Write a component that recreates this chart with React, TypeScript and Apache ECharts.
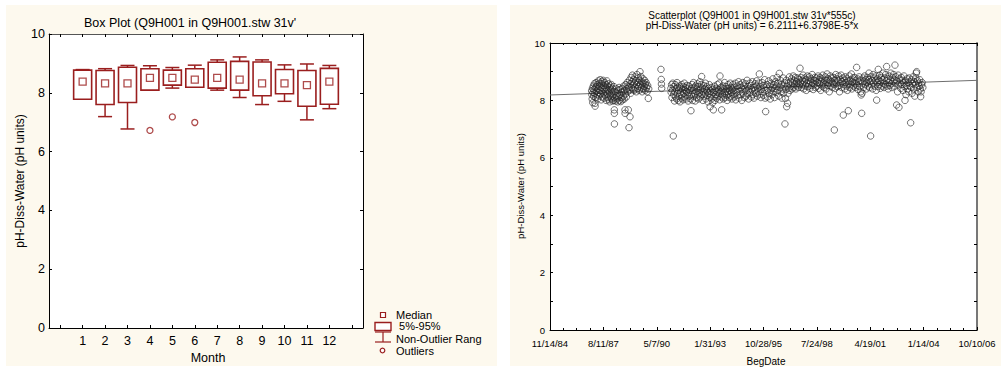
import React, { useEffect, useRef } from "react";
import * as echarts from "echarts";

// ---------- Box plot data (left) ----------
const monthLabels = ["", "1", "2", "3", "4", "5", "6", "7", "8", "9", "10", "11", "12", ""];
const whiskerLow = [7.78, 7.19, 6.77, 8.09, 8.16, 8.19, 8.09, 7.84, 7.6, 7.71, 7.08, 7.46];
const pct5 = [7.78, 7.6, 7.67, 8.09, 8.26, 8.19, 8.16, 8.09, 7.9, 7.97, 7.54, 7.61];
const medians = [8.38, 8.32, 8.32, 8.51, 8.51, 8.45, 8.51, 8.45, 8.32, 8.32, 8.26, 8.38];
const pct95 = [8.77, 8.76, 8.87, 8.82, 8.77, 8.82, 9.04, 9.07, 9.05, 8.79, 8.76, 8.83];
const whiskerHigh = [8.79, 8.82, 8.93, 8.92, 8.86, 8.94, 9.12, 9.22, 9.12, 8.95, 8.98, 8.93];
const outlierMonths = [4, 5, 6];
const outlierValues = [6.72, 7.18, 6.99];

// ---------- Scatter data (right): [Excel date serial, pH] ----------
const phSamples: [number, number][] = [
  [31780, 8.33], [31784, 8.2], [31790, 8.05], [31795, 8.42], [31801, 7.92], [31806, 8.28], [31812, 8.5], [31818, 8.15], [31824, 8.38], [31830, 8.58],
  [31836, 8.25], [31843, 7.9], [31845, 7.8], [31850, 8.45], [31856, 8.1], [31862, 8.62], [31868, 8.32], [31874, 8.48], [31880, 8.2], [31886, 8.55],
  [31892, 8.05], [31898, 8.4], [31904, 8.68], [31910, 8.28], [31916, 8.5], [31922, 8.15], [31928, 8.6], [31934, 8.35], [31940, 8.72], [31946, 8.22],
  [31952, 8.45], [31958, 8.02], [31964, 8.58], [31970, 8.3], [31976, 8.65], [31982, 8.12], [31988, 8.42], [31994, 8.7], [32000, 8.25], [32006, 8.52],
  [32012, 8.08], [32018, 8.38], [32024, 8.62], [32030, 8.18], [32036, 8.45], [32042, 8.3], [32048, 8.55], [32054, 8.0], [32060, 8.4], [32066, 8.68],
  [32072, 8.22], [32078, 8.5], [32084, 8.1], [32090, 8.35], [32096, 8.58], [32102, 8.02], [32108, 8.28], [32114, 8.45], [32120, 7.95], [32126, 8.2],
  [32132, 8.5], [32138, 8.12], [32144, 8.38], [32150, 8.55], [32156, 8.05], [32162, 8.25], [32168, 8.42], [32174, 7.98], [32180, 8.15], [32186, 8.3],
  [32192, 8.0], [32198, 8.48], [32205, 7.67], [32206, 7.55], [32207, 7.18], [32212, 8.1],
  [32222, 8.3], [32230, 7.98], [32238, 8.15], [32246, 8.4], [32254, 8.05], [32262, 8.25], [32270, 7.95], [32278, 8.35], [32286, 8.12], [32294, 8.45],
  [32302, 8.0], [32310, 8.2], [32318, 8.38], [32326, 7.96], [32334, 8.28], [32342, 8.1], [32350, 8.42], [32358, 8.02], [32366, 8.3], [32374, 8.15],
  [32382, 8.5], [32390, 8.05], [32398, 8.35], [32405, 7.67], [32407, 7.55], [32414, 8.22], [32422, 8.55], [32430, 8.12], [32438, 8.4], [32446, 8.62],
  [32454, 8.3], [32462, 8.5], [32467, 7.67], [32474, 8.45], [32480, 7.05], [32486, 8.7], [32492, 8.35], [32499, 7.43], [32505, 8.58], [32512, 8.25],
  [32520, 8.8], [32528, 8.45], [32536, 8.65], [32544, 8.88], [32552, 8.4],
  [32560, 8.55], [32568, 8.72], [32576, 8.35], [32584, 8.6], [32592, 8.82], [32600, 8.45], [32608, 8.68], [32616, 8.3], [32624, 8.55], [32632, 8.9],
  [32640, 8.42], [32648, 8.62], [32656, 8.78], [32664, 8.5], [32672, 8.35], [32680, 8.7], [32686, 9.0], [32694, 8.55], [32702, 8.83], [32710, 8.45],
  [32718, 8.65], [32726, 8.3], [32734, 8.58], [32742, 8.75], [32750, 8.4], [32758, 8.6], [32766, 8.48], [32774, 8.7], [32782, 8.35], [32790, 8.55],
  [32800, 8.62], [32810, 8.45], [32820, 8.3], [32830, 8.52], [32842, 8.07], [32850, 8.4],
  [33079, 9.08], [33085, 8.73], [33088, 8.57], [33092, 8.42],
  [33265, 8.42], [33270, 8.28], [33278, 8.55], [33286, 8.1], [33294, 8.35], [33302, 8.6], [33310, 6.76], [33316, 8.2], [33324, 8.48], [33332, 7.98],
  [33340, 8.3], [33348, 8.55], [33356, 8.12], [33364, 8.4], [33372, 8.05], [33380, 8.62], [33388, 8.25], [33396, 8.45], [33404, 8.0], [33412, 8.35],
  [33420, 8.15], [33428, 8.5], [33436, 7.95], [33444, 8.28], [33452, 8.42], [33460, 8.08], [33468, 8.55], [33476, 8.2], [33484, 8.38], [33492, 8.02],
  [33500, 8.48], [33508, 8.25], [33516, 8.6], [33524, 8.12], [33532, 8.35], [33540, 8.45], [33548, 8.05], [33556, 8.3], [33564, 8.52], [33572, 8.18],
  [33580, 8.4], [33588, 7.98], [33596, 8.28], [33604, 8.5], [33612, 8.15], [33620, 8.35],
  [33632, 8.05], [33641, 7.64], [33648, 8.42], [33656, 8.2], [33664, 8.55], [33672, 8.0], [33680, 8.35], [33688, 8.62], [33696, 8.15], [33704, 8.45],
  [33712, 8.25], [33720, 7.98], [33728, 8.5], [33736, 8.3], [33744, 8.1], [33752, 8.4], [33760, 8.58], [33768, 8.2], [33776, 8.35], [33784, 8.05],
  [33792, 8.48], [33800, 8.25], [33808, 8.65], [33816, 8.12], [33824, 8.38], [33832, 8.55], [33841, 8.83], [33848, 8.2], [33856, 8.42], [33864, 8.0],
  [33872, 8.3], [33880, 8.52], [33888, 8.15], [33896, 8.4], [33904, 8.22], [33912, 8.6], [33920, 8.05], [33928, 8.35], [33936, 8.48], [33944, 8.18],
  [33952, 8.3], [33960, 7.95], [33968, 8.42], [33976, 8.25], [33984, 8.55], [33992, 8.1], [34000, 7.78], [34008, 8.32], [34016, 8.2], [34024, 8.45],
  [34032, 8.05], [34040, 8.38], [34048, 7.92], [34060, 7.67], [34066, 8.28], [34074, 8.12], [34082, 8.5], [34090, 8.0], [34098, 8.35], [34106, 8.2],
  [34114, 8.42], [34122, 8.08], [34130, 8.3], [34138, 8.55], [34146, 8.15], [34154, 8.38], [34162, 8.25], [34170, 8.6], [34178, 8.02], [34185, 8.85],
  [34192, 8.3], [34200, 8.45], [34208, 8.12], [34216, 7.67], [34224, 8.35], [34232, 8.2], [34240, 8.5], [34248, 8.05], [34256, 8.4], [34264, 8.25],
  [34272, 8.62], [34280, 8.1], [34288, 8.32], [34296, 8.48], [34304, 8.18], [34312, 8.4], [34320, 8.0], [34328, 8.3], [34336, 8.55], [34344, 8.22],
  [34352, 8.42], [34360, 8.1], [34368, 8.35], [34376, 8.6], [34384, 8.15], [34392, 8.45], [34400, 8.28], [34408, 8.05], [34416, 8.38], [34424, 8.55],
  [34432, 8.2],
  [34442, 8.45], [34452, 8.12], [34462, 8.35], [34472, 8.6], [34482, 8.02], [34492, 8.28], [34502, 8.5], [34512, 8.18], [34522, 8.4], [34532, 8.65],
  [34542, 8.08], [34552, 8.32], [34562, 8.55], [34572, 8.2], [34582, 8.45], [34592, 8.0], [34602, 8.38], [34612, 8.62], [34622, 8.25], [34632, 8.5],
  [34642, 8.1], [34652, 8.4], [34662, 8.58], [34672, 8.15], [34682, 8.35], [34692, 8.7], [34702, 8.22], [34712, 8.48], [34722, 8.05], [34732, 8.4],
  [34742, 8.6], [34752, 8.28], [34762, 8.52], [34772, 8.12], [34782, 8.38], [34792, 8.65], [34802, 8.2], [34812, 8.45], [34822, 8.08], [34832, 8.35],
  [34842, 8.58], [34852, 8.25], [34862, 8.5], [34872, 8.68], [34882, 8.15], [34892, 8.42], [34902, 8.3], [34912, 8.6], [34922, 8.92], [34932, 8.22],
  [34942, 8.48], [34952, 8.1], [34962, 8.38], [34972, 8.62], [34982, 8.3], [34992, 8.52], [35002, 8.18], [35012, 8.45], [35022, 8.72], [35032, 8.08],
  [35040, 7.61], [35048, 8.35],
  [35066, 8.55], [35076, 8.12], [35086, 8.4], [35096, 8.68], [35106, 8.25], [35116, 8.5], [35126, 8.05], [35136, 8.35], [35146, 8.6], [35156, 8.2],
  [35166, 8.45], [35176, 8.75], [35186, 8.3], [35196, 8.55], [35206, 8.1], [35216, 8.42], [35226, 8.65], [35236, 8.28], [35246, 8.5], [35256, 8.8],
  [35266, 8.35], [35276, 8.6], [35286, 8.15], [35296, 8.94], [35306, 8.45], [35316, 8.7], [35326, 8.3], [35336, 8.55], [35346, 8.08], [35356, 8.4],
  [35366, 8.78], [35376, 8.25], [35386, 8.5], [35396, 8.62], [35402, 7.18], [35410, 8.07], [35418, 8.38], [35426, 8.7], [35434, 7.78], [35442, 8.5],
  [35450, 7.9], [35458, 8.25], [35466, 8.6], [35476, 8.42], [35486, 8.82], [35496, 8.35], [35506, 8.65], [35516, 8.5], [35526, 8.75], [35536, 8.4],
  [35546, 8.6], [35556, 8.85], [35566, 8.45], [35576, 8.7], [35586, 8.55], [35596, 8.8], [35606, 8.4], [35616, 8.65], [35626, 8.5], [35636, 8.78],
  [35646, 8.6], [35656, 8.45], [35666, 8.72], [35676, 8.55],
  [35684, 9.12], [35692, 8.62], [35702, 8.8], [35712, 8.45], [35722, 8.7], [35732, 8.55], [35742, 8.88], [35752, 8.4], [35762, 8.65], [35772, 8.78],
  [35782, 8.5], [35792, 8.72], [35802, 8.35], [35812, 8.6], [35822, 8.85], [35832, 8.48], [35842, 8.7], [35852, 8.58], [35862, 8.82], [35872, 8.42],
  [35882, 8.65], [35892, 8.75], [35902, 8.52], [35912, 8.9], [35922, 8.6], [35932, 8.38], [35942, 8.7], [35952, 8.55], [35962, 8.8], [35972, 8.45],
  [35982, 8.68], [35992, 8.78], [36002, 8.5], [36012, 8.62], [36022, 8.85], [36032, 8.42], [36042, 8.72], [36052, 8.58], [36062, 8.8], [36072, 8.35],
  [36082, 8.65], [36092, 8.75], [36102, 8.5], [36112, 8.88], [36122, 8.6], [36132, 8.45], [36142, 8.7], [36152, 8.55], [36162, 8.82], [36172, 8.4],
  [36182, 8.68], [36192, 8.92], [36202, 8.52], [36212, 8.75], [36222, 8.6], [36232, 8.3], [36242, 8.7], [36252, 8.85], [36262, 8.5], [36272, 8.65],
  [36282, 8.78], [36292, 8.45], [36302, 8.6],
  [36312, 8.8], [36320, 8.55], [36327, 6.97], [36334, 8.7], [36344, 8.42], [36354, 8.9], [36364, 8.6], [36374, 8.75], [36384, 8.48], [36394, 8.68],
  [36404, 8.85], [36414, 8.52], [36424, 8.3], [36434, 8.72], [36444, 8.6], [36454, 8.88], [36464, 8.45], [36474, 8.65], [36484, 8.78], [36495, 7.49],
  [36502, 8.55], [36512, 8.7], [36522, 8.4], [36532, 8.82], [36542, 8.62], [36552, 8.5], [36562, 8.75], [36572, 8.35], [36582, 8.68], [36589, 7.64],
  [36596, 8.58], [36606, 8.85], [36616, 8.45], [36626, 8.7], [36636, 8.55], [36646, 8.92], [36656, 8.4], [36666, 8.65], [36676, 8.78], [36686, 8.5],
  [36696, 8.62], [36706, 8.8], [36716, 8.45], [36726, 8.7], [36736, 8.58], [36745, 9.15], [36752, 8.52], [36762, 8.75], [36772, 8.38], [36782, 8.65],
  [36792, 8.82], [36802, 8.48], [36812, 8.7], [36822, 8.3], [36830, 8.19], [36839, 7.55], [36846, 8.25], [36856, 8.6], [36866, 8.78], [36876, 8.45],
  [36886, 8.68], [36896, 8.85], [36906, 8.55], [36916, 8.72], [36926, 8.4],
  [36936, 8.62], [36946, 8.8], [36956, 8.5], [36966, 8.72], [36976, 8.95], [36986, 8.45], [36996, 8.65], [37007, 6.76], [37014, 8.82], [37024, 8.55],
  [37034, 8.7], [37044, 8.4], [37054, 8.9], [37064, 8.6], [37074, 8.78], [37084, 8.5], [37094, 8.68], [37104, 8.85], [37112, 8.35], [37120, 8.01],
  [37128, 8.62], [37136, 8.75], [37144, 8.48], [37151, 9.08], [37158, 8.7], [37168, 8.55], [37178, 8.88], [37188, 8.42], [37198, 8.65], [37208, 8.8],
  [37218, 8.5], [37228, 8.72], [37238, 8.95], [37248, 8.6], [37258, 8.45], [37268, 8.78], [37278, 8.55], [37288, 8.9], [37298, 8.68], [37307, 9.18],
  [37316, 8.5], [37326, 8.75], [37336, 8.4], [37346, 8.62], [37356, 8.85], [37366, 8.52], [37376, 8.7], [37386, 8.95], [37396, 8.58], [37406, 8.45],
  [37416, 8.8], [37426, 8.65], [37436, 8.9], [37446, 8.5], [37456, 8.72], [37463, 9.23], [37472, 8.6], [37482, 8.82], [37494, 7.84], [37502, 8.68],
  [37512, 8.3], [37522, 8.88], [37530, 8.55], [37538, 7.76], [37546, 8.75],
  [37562, 8.6], [37572, 8.42], [37582, 8.8], [37592, 8.55], [37602, 8.7], [37612, 8.35], [37622, 8.62], [37632, 8.85], [37642, 8.48], [37651, 8.0],
  [37660, 8.68], [37670, 8.2], [37680, 8.52], [37690, 8.75], [37700, 8.4], [37710, 8.62], [37720, 8.3], [37730, 8.78], [37740, 8.5], [37750, 8.65],
  [37757, 7.22], [37764, 8.45], [37774, 8.72], [37784, 8.25], [37794, 8.58], [37804, 8.82], [37814, 8.4], [37824, 8.65], [37834, 8.15], [37844, 8.55],
  [37854, 8.78], [37862, 8.95], [37869, 9.0], [37876, 8.45], [37886, 8.68], [37896, 8.3], [37906, 8.6], [37916, 8.5], [37926, 8.72], [37936, 8.4],
  [37944, 8.13], [37952, 8.3], [37962, 8.55], [37972, 8.62], [37985, 8.45],
];

// Regression: pH = 6.2111 + 6.3798E-5 * x
const regIntercept = 6.2111;
const regSlope = 6.3798e-5;
const dateMin = 31000; // 11/14/84
const dateMax = 39000; // 10/10/06

const FONT = '"Liberation Sans", Arial, sans-serif';
const BOX_RED = "#9a1e1e";

function serialToLabel(v: number): string {
  const d = new Date(Date.UTC(1899, 11, 30) + Math.round(v) * 86400000);
  return `${d.getUTCMonth() + 1}/${d.getUTCDate()}/${String(d.getUTCFullYear()).slice(2)}`;
}

export default function App() {
  const ref = useRef<HTMLDivElement>(null);

  useEffect(() => {
    if (!ref.current) return;
    const chart = echarts.init(ref.current, undefined, { renderer: "svg" });

    const boxData = monthLabels.slice(1, 13).map((_, i) => [i + 1, whiskerLow[i], pct5[i], pct95[i], whiskerHigh[i]]);
    const medianData = medians.map((v, i) => [i + 1, v]);
    const outlierData = outlierMonths.map((m, i) => [m, outlierValues[i]]);
    const regData = [
      [dateMin, regIntercept + regSlope * dateMin],
      [dateMax, regIntercept + regSlope * dateMax],
    ];

    const leftLabel = { fontSize: 12.5, color: "#000", fontFamily: FONT };
    const rightLabel = { fontSize: 9.5, color: "#000", fontFamily: FONT };

    const catAxis = (pos: "bottom" | "top", showLabel: boolean, lineColor: string) => ({
      type: "category",
      gridIndex: 0,
      position: pos,
      data: monthLabels,
      boundaryGap: true,
      axisLine: { show: true, onZero: false, lineStyle: { color: lineColor, width: 1 } },
      axisTick: { show: true, inside: true, alignWithLabel: true, interval: 0, length: 3, lineStyle: { color: "#000" } },
      axisLabel: { show: showLabel, interval: 0, margin: 6, ...leftLabel },
      splitLine: { show: false },
    });
    const leftY = (pos: "left" | "right", showLabel: boolean) => ({
      type: "value",
      gridIndex: 0,
      position: pos,
      min: 0,
      max: 10,
      interval: 2,
      axisLine: { show: true, onZero: false, lineStyle: { color: "#000", width: 1 } },
      axisTick: { show: true, inside: true, length: 3, lineStyle: { color: "#000" } },
      axisLabel: { show: showLabel, margin: 4, ...leftLabel },
      splitLine: { show: false },
    });
    const dateAxis = (pos: "bottom" | "top", showLabel: boolean) => ({
      type: "value",
      gridIndex: 1,
      position: pos,
      min: dateMin,
      max: dateMax,
      interval: 1000,
      axisLine: { show: true, onZero: false, lineStyle: { color: "#000", width: 1 } },
      axisTick: { show: true, inside: true, length: 3, lineStyle: { color: "#000" } },
      minorTick: { show: true, splitNumber: 4, length: 2, lineStyle: { color: "#000" } },
      axisLabel: { show: showLabel, margin: 8, formatter: (v: number) => serialToLabel(v), ...rightLabel },
      splitLine: { show: false },
      minorSplitLine: { show: false },
    });
    const rightY = (pos: "left" | "right", showLabel: boolean, lineColor: string, w: number) => ({
      type: "value",
      gridIndex: 1,
      position: pos,
      min: 0,
      max: 10,
      interval: 2,
      axisLine: { show: true, onZero: false, lineStyle: { color: lineColor, width: w } },
      axisTick: { show: true, inside: true, length: 3, lineStyle: { color: "#000" } },
      minorTick: { show: true, splitNumber: 2, length: 3, lineStyle: { color: "#000" } },
      axisLabel: { show: showLabel, margin: 5, ...rightLabel },
      splitLine: { show: false },
      minorSplitLine: { show: false },
    });

    const txt = (text: string, x: number, y: number, size: number, align = "center", rotation = 0) => ({
      type: "text",
      x,
      y,
      rotation,
      z: 10,
      silent: true,
      style: { text, fill: "#000", fontSize: size, fontFamily: FONT, align, verticalAlign: "middle" },
    });

    const option: any = {
      animation: false,
      backgroundColor: "#ffffff",
      grid: [
        { left: 49, top: 34, width: 314, height: 294, show: true, backgroundColor: "#ffffff", borderWidth: 0 },
        { left: 550, top: 43, width: 427, height: 287, show: true, backgroundColor: "#ffffff", borderWidth: 0 },
      ],
      xAxis: [catAxis("bottom", true, "#000"), catAxis("top", false, "#555"), dateAxis("bottom", true), dateAxis("top", false)],
      yAxis: [leftY("left", true), leftY("right", false), rightY("left", true, "#000", 1), rightY("right", false, "#777", 2)],
      graphic: {
        elements: [
          { type: "rect", z: -10, silent: true, shape: { x: 6, y: 5, width: 491, height: 361 }, style: { fill: "#fdf9ee" } },
          { type: "rect", z: -10, silent: true, shape: { x: 510, y: 5, width: 491, height: 361 }, style: { fill: "#fdf9ee" } },
          txt("Box Plot (Q9H001 in Q9H001.stw 31v'", 84, 23, 12.5, "left"),
          txt("pH-Diss-Water (pH units)", 20, 181, 12, "center", Math.PI / 2),
          txt("Month", 208, 358, 12.5),
          txt("Scatterplot (Q9H001 in Q9H001.stw 31v*555c)", 752, 15.5, 10),
          txt("pH-Diss-Water (pH units) = 6.2111+6.3798E-5*x", 752, 25, 10),
          txt("pH-Diss-Water (pH units)", 520, 186, 9.5, "center", Math.PI / 2),
          txt("BegDate", 766, 361, 10),
          // legend
          { type: "rect", z: 10, silent: true, shape: { x: 380.5, y: 312.5, width: 5, height: 5 }, style: { fill: "#fff", stroke: BOX_RED, lineWidth: 1.2 } },
          txt("Median", 396, 314.5, 11, "left"),
          { type: "rect", z: 10, silent: true, shape: { x: 375, y: 322.5, width: 16, height: 8 }, style: { fill: "#fff", stroke: BOX_RED, lineWidth: 1.4 } },
          txt(" 5%-95%", 396, 326, 11, "left"),
          { type: "line", z: 10, silent: true, shape: { x1: 375, y1: 332, x2: 391, y2: 332 }, style: { stroke: BOX_RED, lineWidth: 1.2 } },
          { type: "line", z: 10, silent: true, shape: { x1: 383, y1: 332, x2: 383, y2: 342 }, style: { stroke: BOX_RED, lineWidth: 1.2 } },
          { type: "line", z: 10, silent: true, shape: { x1: 375, y1: 342, x2: 391, y2: 342 }, style: { stroke: BOX_RED, lineWidth: 1.2 } },
          txt("Non-Outlier Rang", 396, 338.5, 11, "left"),
          { type: "circle", z: 10, silent: true, shape: { cx: 382.5, cy: 350.5, r: 2.3 }, style: { fill: "#fff", stroke: BOX_RED, lineWidth: 1.2 } },
          txt("Outliers", 396, 350.5, 11, "left"),
        ],
      },
      series: [
        {
          type: "custom",
          xAxisIndex: 0,
          yAxisIndex: 0,
          data: boxData,
          encode: { x: 0, y: [1, 2, 3, 4] },
          z: 3,
          silent: true,
          renderItem: (params: any, api: any) => {
            const x = api.value(0);
            const lo = api.coord([x, api.value(1)]);
            const b5 = api.coord([x, api.value(2)]);
            const b95 = api.coord([x, api.value(3)]);
            const hi = api.coord([x, api.value(4)]);
            const cx = lo[0];
            const bw = 18;
            const cw = 14;
            const ls = { stroke: BOX_RED, lineWidth: 1.5 };
            return {
              type: "group",
              children: [
                { type: "line", shape: { x1: cx, y1: hi[1], x2: cx, y2: b95[1] }, style: ls },
                { type: "line", shape: { x1: cx - cw / 2, y1: hi[1], x2: cx + cw / 2, y2: hi[1] }, style: ls },
                { type: "line", shape: { x1: cx, y1: b5[1], x2: cx, y2: lo[1] }, style: ls },
                { type: "line", shape: { x1: cx - cw / 2, y1: lo[1], x2: cx + cw / 2, y2: lo[1] }, style: ls },
                {
                  type: "rect",
                  shape: { x: cx - bw / 2, y: b95[1], width: bw, height: b5[1] - b95[1] },
                  style: { fill: "#fff", stroke: BOX_RED, lineWidth: 1.6 },
                },
              ],
            };
          },
        },
        {
          type: "scatter",
          xAxisIndex: 0,
          yAxisIndex: 0,
          data: medianData,
          symbol: "rect",
          symbolSize: 7,
          z: 5,
          silent: true,
          itemStyle: { color: "#fff", borderColor: BOX_RED, borderWidth: 1.3 },
        },
        {
          type: "scatter",
          xAxisIndex: 0,
          yAxisIndex: 0,
          data: outlierData,
          symbol: "circle",
          symbolSize: 6,
          z: 5,
          silent: true,
          itemStyle: { color: "#fff", borderColor: BOX_RED, borderWidth: 1.3 },
        },
        {
          type: "line",
          xAxisIndex: 2,
          yAxisIndex: 2,
          data: regData,
          showSymbol: false,
          symbol: "none",
          silent: true,
          z: 2,
          lineStyle: { color: "#6e6e6e", width: 1 },
        },
        {
          type: "scatter",
          xAxisIndex: 2,
          yAxisIndex: 2,
          data: phSamples,
          symbol: "circle",
          symbolSize: 6.5,
          z: 3,
          silent: true,
          itemStyle: { color: "rgba(0,0,0,0)", borderColor: "#262626", borderWidth: 0.8 },
        },
      ],
    };

    chart.setOption(option);
    return () => chart.dispose();
  }, []);

  return (
    <div
      ref={ref}
      style={{ position: "absolute", left: 0, top: 0, width: 1006, height: 371 }}
    />
  );
}
